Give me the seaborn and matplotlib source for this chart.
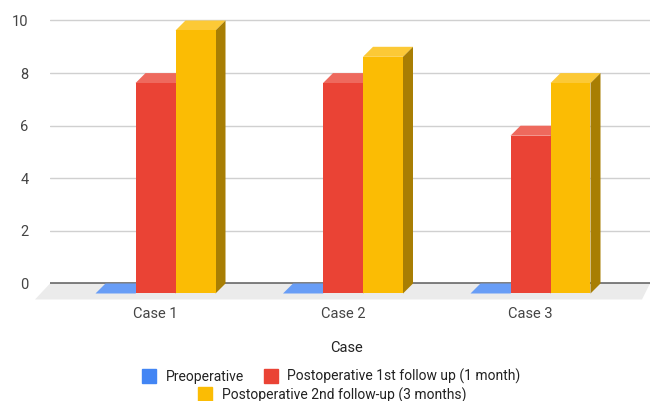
import numpy as np
import pandas as pd
import matplotlib
matplotlib.use("Agg")
import matplotlib.pyplot as plt
from matplotlib.patches import Polygon
from matplotlib.lines import Line2D
from matplotlib.transforms import ScaledTranslation, IdentityTransform
import matplotlib.colors as mcolors
import seaborn as sns

# Scores per case at each visit
cases = ["Case 1", "Case 2", "Case 3"]
preoperative = [0, 0, 0]
followup_1m = [8, 8, 6]
followup_3m = [10, 9, 8]

periods = [
    "Preoperative",
    "Postoperative 1st follow up (1 month)",
    "Postoperative 2nd follow-up (3 months)",
]
colors = ["#4285F4", "#EA4335", "#FBBC04"]
yticks = [0, 2, 4, 6, 8, 10]

df = pd.DataFrame({
    "Case": cases * 3,
    "Score": preoperative + followup_1m + followup_3m,
    "Period": [p for p in periods for _ in cases],
})

sns.set_theme(style="white")
plt.rcParams["font.family"] = ["Roboto", "DejaVu Sans"]

W, H = 650, 401
DPI = 100
fig = plt.figure(figsize=(W / DPI, H / DPI), dpi=DPI)
# axes box is the back plane of the pseudo-3D scene
ax_top, ax_bot = 15.24, 301.9
ax = fig.add_axes([50 / W, (H - ax_bot) / H, 600 / W, (ax_bot - ax_top) / H])

sns.barplot(data=df, x="Case", y="Score", hue="Period", hue_order=periods,
            palette=colors, saturation=1, width=0.64, ax=ax, legend=False)
bars = sorted(list(ax.patches), key=lambda p: p.get_x())

ax.set_xlim(-0.616, 2.584)
ax.set_ylim(-0.7, 10.2)
ax.set_yticks(yticks)
ax.set_xlabel("")
ax.set_ylabel("")
for s in ax.spines.values():
    s.set_visible(False)
ax.yaxis.grid(True, color="#d0d0d0", lw=1, zorder=0.5)
ax.set_axisbelow(True)
ax.tick_params(axis="both", length=0, labelsize=10.5, colors="#444444")
ax.tick_params(axis="y", pad=15.5)
ax.tick_params(axis="x", pad=4)

D = 10  # depth of the bars in pixels
front = ScaledTranslation(-D / DPI, -D / DPI, fig.dpi_scale_trans)
for lab in ax.get_xticklabels():
    lab.set_transform(lab.get_transform() + ScaledTranslation(-D / DPI, 0, fig.dpi_scale_trans))


def disp(x, y, dx=0.0, dy=0.0):
    px, py = ax.transData.transform((x, y))
    return (px + dx, py + dy)


def shade(c, f):
    r, g, b = mcolors.to_rgb(c)
    return (r * f, g * f, b * f)


def tint(c, f):
    r, g, b = mcolors.to_rgb(c)
    return (r + (1 - r) * f, g + (1 - g) * f, b + (1 - b) * f)


def face(points, color, z):
    poly = Polygon(points, closed=True, facecolor=color, edgecolor="none",
                   transform=IdentityTransform(), zorder=z, clip_on=False)
    ax.add_artist(poly)
    return poly


# floor under the bars
x0l, x1l = ax.get_xlim()
face([disp(x0l, 0), disp(x1l, 0), disp(x1l, 0, -8, -16), disp(x0l, 0, -15, -16)],
     "#ebebeb", 0.6)
ax.axhline(0, color="#5f5f5f", lw=1.1, zorder=0.7)

for i, p in enumerate(bars):
    x0, w, h = p.get_x(), p.get_width(), p.get_height()
    base = mcolors.to_hex(p.get_facecolor())
    z = 2 + i * 0.1
    p.set_transform(ax.transData + front)
    p.set_edgecolor("none")
    p.set_linewidth(0)
    p.set_zorder(z + 0.05)
    p.set_clip_on(False)
    face([disp(x0, h, -D, -D), disp(x0 + w, h, -D, -D), disp(x0 + w, h), disp(x0, h)],
         tint(base, 0.2), z)
    if h > 0:
        face([disp(x0 + w, 0, -D, -D), disp(x0 + w, 0), disp(x0 + w, h), disp(x0 + w, h, -D, -D)],
             shade(base, 0.67), z)

fig.text(346.5 / W, 1 - 348 / H, "Case", ha="center", va="center",
         fontsize=10.5, color="#222222")

handles = [Line2D([], [], marker="s", linestyle="none", markersize=10,
                  markerfacecolor=c, markeredgecolor=c) for c in colors]
leg_kw = dict(loc="center", frameon=False, handlelength=1.0, handletextpad=0.7,
              columnspacing=1.4, borderpad=0, borderaxespad=0, fontsize=10,
              labelcolor="#222222", bbox_transform=fig.transFigure)
fig.legend(handles[:2], periods[:2], ncol=2,
           bbox_to_anchor=(331.5 / W, 1 - 376.7 / H), **leg_kw)
fig.legend(handles[2:], periods[2:], ncol=1,
           bbox_to_anchor=(332 / W, 1 - 395 / H), **leg_kw)

fig.savefig("out.png", dpi=DPI)
